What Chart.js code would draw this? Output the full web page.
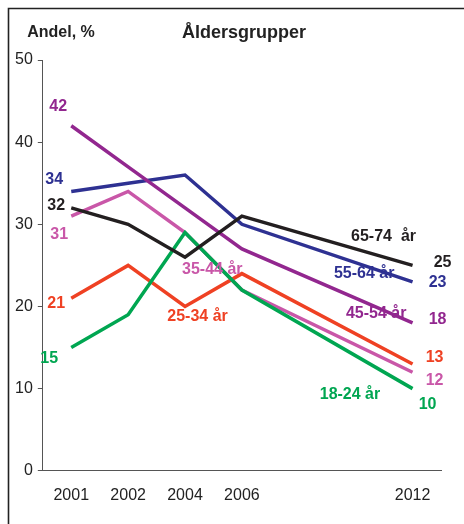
<!DOCTYPE html>
<html><head><meta charset="utf-8">
<script src="https://cdn.jsdelivr.net/npm/chart.js@4/dist/chart.umd.min.js"></script>
<style>html,body{margin:0;padding:0;background:#fff}#wrap{width:464px;height:524px;position:relative}</style>
</head><body><div id="wrap"><canvas id="c" width="464" height="524"></canvas></div>
<script>
// ---- data ----
const categories = ['2001', '2002', '2004', '2006', '', '', '2012'];
const age6574 = [32, 30, 26, 31, null, null, 25];
const age1824 = [15, 19, 29, 22, null, null, 10];
const age3544 = [31, 34, 29, 22, null, null, 12];
const age4554 = [42, 37, 32, 27, null, null, 18];
const age5564 = [34, 35, 36, 30, null, null, 23];
const age2534 = [21, 25, 20, 24, null, null, 13];
const seriesNames = ['65-74  år', '18-24 år', '35-44 år', '45-54 år', '55-64 år', '25-34 år'];
const yTicks = [0, 10, 20, 30, 40, 50];

// ---- styles / label placement ----
const colors = ['#231F20', '#00A651', '#C957A8', '#92278F', '#2E3192', '#EF4123'];
const startOff = [[-15, -2], [-22, 11], [-12, 18], [-13, -19], [-17, -12], [-15, 5]];
const endOff = [[30, -3], [15, 16], [22, 8], [25, -3], [25, 1], [22, -6]];
const namePos = [[5.49, 28.45], [4.9, 9.3], [2.48, 24.5], [5.36, 19.1], [5.15, 24.0], [2.22, 18.8]];
const seriesData = [age6574, age1824, age3544, age4554, age5564, age2534];

const FONT = '"Liberation Sans", Arial, Helvetica, sans-serif';

const labelPlugin = {
  id: 'labels',
  afterDraw(chart) {
    const ctx = chart.ctx;
    const xs = chart.scales.x, ys = chart.scales.y;
    ctx.save();
    // frame
    ctx.strokeStyle = '#222';
    ctx.lineWidth = 1.6;
    ctx.beginPath();
    ctx.moveTo(8.5, 524); ctx.lineTo(8.5, 8.5); ctx.lineTo(464, 8.5);
    ctx.stroke();
    ctx.textAlign = 'center';
    ctx.textBaseline = 'middle';
    ctx.fillStyle = '#222';
    ctx.font = 'bold 18px ' + FONT;
    ctx.fillText('Åldersgrupper', 244, 33);
    ctx.font = 'bold 16px ' + FONT;
    ctx.fillText('Andel, %', 61, 33);
    seriesData.forEach((d, i) => {
      ctx.fillStyle = colors[i];
      ctx.font = 'bold 16px ' + FONT;
      const firstIdx = d.findIndex(v => v !== null);
      let lastIdx = d.length - 1;
      while (d[lastIdx] === null) lastIdx--;
      const x0 = xs.getPixelForValue(firstIdx), y0 = ys.getPixelForValue(d[firstIdx]);
      ctx.fillText(String(d[firstIdx]), x0 + startOff[i][0], y0 + startOff[i][1]);
      const x1 = xs.getPixelForValue(lastIdx), y1 = ys.getPixelForValue(d[lastIdx]);
      ctx.fillText(String(d[lastIdx]), x1 + endOff[i][0], y1 + endOff[i][1]);
      ctx.fillText(seriesNames[i], xs.getPixelForValue(namePos[i][0]), ys.getPixelForValue(namePos[i][1]));
    });
    ctx.restore();
  }
};

new Chart(document.getElementById('c'), {
  type: 'line',
  data: {
    labels: categories,
    datasets: seriesData.map((d, i) => ({
      label: seriesNames[i],
      data: d,
      borderColor: colors[i],
      backgroundColor: colors[i],
      borderWidth: 3.5,
      pointRadius: 0,
      tension: 0,
      spanGaps: true,
      borderJoinStyle: 'miter',
      fill: false
    }))
  },
  options: {
    responsive: false,
    animation: false,
    devicePixelRatio: 1,
    layout: { padding: { left: 10, right: 23, top: 60, bottom: 4 } },
    plugins: { legend: { display: false }, tooltip: { enabled: false } },
    scales: {
      x: {
        type: 'category',
        offset: true,
        grid: { display: true, drawOnChartArea: false, drawTicks: false },
        border: { display: true, color: '#555', width: 1 },
        ticks: { color: '#222', font: { family: FONT, size: 16 }, padding: 15, autoSkip: false, maxRotation: 0 }
      },
      y: {
        min: 0, max: 50,
        afterBuildTicks(scale) { scale.ticks = yTicks.map(v => ({ value: v })); },
        grid: { display: true, drawOnChartArea: false, drawTicks: true, tickLength: 5, color: '#555' },
        border: { display: true, color: '#555', width: 1 },
        ticks: { color: '#222', font: { family: FONT, size: 16 }, padding: 5 }
      }
    }
  },
  plugins: [labelPlugin]
});
</script></body></html>
